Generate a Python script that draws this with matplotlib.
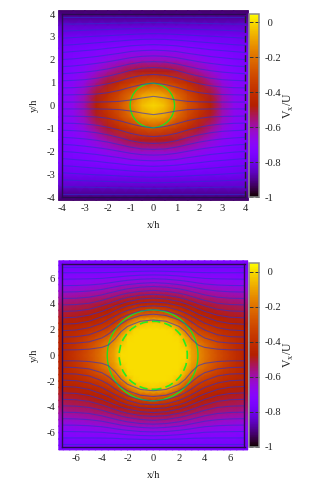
import numpy as np
import matplotlib
matplotlib.use('Agg')
import matplotlib.pyplot as plt

plt.rcParams['font.family'] = ['Liberation Serif', 'DejaVu Serif']
plt.rcParams['font.size'] = 7.6
plt.rcParams['axes.unicode_minus'] = False
plt.rcParams['mathtext.fontset'] = 'custom'
plt.rcParams['mathtext.rm'] = 'Liberation Serif'

W, H = 332, 483

# top panel: one quadrant of Vx/U
top_grid_x = [0, 0.5, 1, 1.5, 2, 2.5, 3, 3.5, 4.15]
top_grid_y = [0, 0.5, 1, 1.5, 2, 2.5, 3, 3.5, 4.15]
top_field = [
    [-.01, -.05, -.17, -.28, -.37, -.47, -.59, -.67, -.72],
    [-.08, -.11, -.22, -.32, -.41, -.50, -.61, -.68, -.72],
    [-.28, -.31, -.36, -.42, -.50, -.57, -.65, -.70, -.73],
    [-.49, -.49, -.51, -.55, -.59, -.64, -.69, -.72, -.75],
    [-.62, -.62, -.63, -.65, -.67, -.70, -.72, -.74, -.76],
    [-.71, -.71, -.71, -.72, -.73, -.74, -.75, -.76, -.77],
    [-.78, -.78, -.78, -.78, -.78, -.79, -.79, -.79, -.80],
    [-.84, -.84, -.84, -.84, -.84, -.84, -.84, -.84, -.84],
    [-.93, -.93, -.93, -.93, -.93, -.93, -.93, -.93, -.93],
]
top_line_x = [0, 0.5, 1, 1.5, 2, 2.5, 3, 3.5, 4]
top_lines = [
    [.40, .33, .24, .18, .16, .15, .15, .15, .15],
    [.98, .92, .80, .66, .56, .50, .48, .47, .46],
    [1.36, 1.32, 1.22, 1.07, .95, .86, .81, .78, .77],
    [1.66, 1.63, 1.54, 1.40, 1.28, 1.19, 1.13, 1.10, 1.08],
    [1.92, 1.90, 1.82, 1.71, 1.60, 1.52, 1.46, 1.42, 1.39],
    [2.17, 2.15, 2.09, 2.00, 1.91, 1.84, 1.78, 1.73, 1.70],
    [2.42, 2.40, 2.36, 2.28, 2.21, 2.14, 2.09, 2.04, 2.01],
    [2.66, 2.64, 2.61, 2.55, 2.50, 2.44, 2.40, 2.36, 2.32],
    [2.90, 2.89, 2.86, 2.82, 2.78, 2.74, 2.70, 2.66, 2.63],
    [3.14, 3.13, 3.11, 3.08, 3.05, 3.03, 3.00, 2.97, 2.94],
    [3.38, 3.37, 3.36, 3.34, 3.32, 3.31, 3.29, 3.27, 3.25],
    [3.62, 3.62, 3.61, 3.60, 3.59, 3.58, 3.57, 3.56, 3.56],
    [3.87, 3.87, 3.87, 3.87, 3.87, 3.87, 3.87, 3.87, 3.87],
]
top_ticks = [-4, -3, -2, -1, 0, 1, 2, 3, 4]

# bottom panel
bot_grid_x = [0, .5, 1, 1.5, 2, 2.5, 3, 3.5, 4, 4.5, 5, 5.5, 6, 6.5, 7, 7.35]
bot_grid_y = [0, .5, 1, 1.5, 2, 2.5, 3, 3.5, 4, 4.5, 5, 5.5, 6, 6.5, 7, 7.35]
bot_field = [
    [0, 0, 0, 0, 0, 0, -.09, -.14, -.19, -.24, -.29, -.33, -.37, -.41, -.45, -.47],
    [0, 0, 0, 0, 0, -.01, -.10, -.15, -.20, -.25, -.30, -.34, -.38, -.42, -.45, -.47],
    [0, 0, 0, 0, 0, -.05, -.13, -.18, -.23, -.28, -.32, -.36, -.39, -.42, -.45, -.47],
    [0, 0, 0, 0, -.01, -.10, -.19, -.25, -.29, -.33, -.36, -.39, -.41, -.43, -.45, -.46],
    [0, 0, 0, -.01, -.09, -.19, -.28, -.33, -.36, -.38, -.40, -.42, -.43, -.44, -.45, -.46],
    [-.02, -.03, -.05, -.11, -.20, -.30, -.36, -.39, -.41, -.43, -.44, -.45, -.46, -.47, -.47, -.48],
    [-.19, -.20, -.22, -.26, -.32, -.37, -.41, -.44, -.45, -.46, -.47, -.48, -.49, -.49, -.50, -.50],
    [-.33, -.34, -.35, -.37, -.40, -.43, -.45, -.47, -.48, -.49, -.50, -.51, -.51, -.52, -.52, -.53],
    [-.43, -.43, -.44, -.45, -.46, -.48, -.49, -.50, -.51, -.52, -.53, -.53, -.54, -.54, -.55, -.55],
    [-.50, -.50, -.50, -.51, -.52, -.53, -.54, -.55, -.56, -.56, -.57, -.57, -.58, -.58, -.59, -.59],
    [-.56, -.56, -.56, -.57, -.57, -.58, -.59, -.59, -.60, -.61, -.61, -.62, -.62, -.63, -.63, -.63],
    [-.62, -.62, -.62, -.62, -.63, -.63, -.64, -.64, -.65, -.65, -.66, -.66, -.66, -.67, -.67, -.67],
    [-.68, -.68, -.68, -.68, -.68, -.69, -.69, -.69, -.69, -.70, -.70, -.70, -.70, -.71, -.71, -.71],
    [-.73, -.73, -.73, -.73, -.73, -.73, -.73, -.73, -.74, -.74, -.74, -.74, -.74, -.74, -.75, -.75],
    [-.77, -.77, -.77, -.77, -.77, -.77, -.77, -.77, -.77, -.77, -.77, -.77, -.77, -.77, -.77, -.77],
    [-.74, -.74, -.74, -.74, -.74, -.74, -.74, -.74, -.74, -.74, -.74, -.74, -.74, -.74, -.74, -.74],
]
bot_line_x = [0, 1, 2, 2.5, 3, 3.5, 4, 5, 6, 7.1]
bot_lines = [
    [2.75, 2.65, 2.25, 1.85, 1.25, .80, .62, .48, .43, .42],
    [3.2, 3.1, 2.75, 2.45, 2.05, 1.65, 1.35, 1.05, .95, .92],
    [3.55, 3.45, 3.15, 2.9, 2.6, 2.25, 1.97, 1.6, 1.45, 1.42],
    [3.85, 3.78, 3.5, 3.3, 3.05, 2.78, 2.5, 2.15, 1.97, 1.92],
    [4.15, 4.08, 3.85, 3.68, 3.45, 3.2, 3.0, 2.65, 2.47, 2.42],
    [4.45, 4.38, 4.18, 4.02, 3.83, 3.62, 3.42, 3.12, 2.96, 2.92],
    [4.75, 4.68, 4.5, 4.37, 4.2, 4.02, 3.85, 3.58, 3.45, 3.42],
    [5.05, 4.98, 4.83, 4.72, 4.57, 4.42, 4.27, 4.05, 3.95, 3.92],
    [5.35, 5.3, 5.17, 5.07, 4.95, 4.83, 4.7, 4.52, 4.44, 4.42],
    [5.65, 5.6, 5.5, 5.42, 5.32, 5.22, 5.12, 5.0, 4.94, 4.92],
    [5.95, 5.92, 5.83, 5.77, 5.7, 5.62, 5.55, 5.47, 5.43, 5.42],
    [6.25, 6.23, 6.17, 6.12, 6.07, 6.03, 5.98, 5.95, 5.93, 5.92],
    [6.55, 6.53, 6.5, 6.48, 6.45, 6.44, 6.43, 6.42, 6.42, 6.42],
    [6.9, 6.9, 6.9, 6.9, 6.9, 6.9, 6.9, 6.9, 6.9, 6.9],
]
bot_ticks = [-6, -4, -2, 0, 2, 4, 6]

cbar_ticks = [0, -0.2, -0.4, -0.6, -0.8, -1]
cbar_labels = [' 0', '-0.2', '-0.4', '-0.6', '-0.8', '-1']

dpi = 100
fig = plt.figure(figsize=(W / dpi, H / dpi), dpi=dpi)


def px_axes(left, top, right, bottom):
    return fig.add_axes([left / W, 1 - bottom / H, (right - left) / W, (bottom - top) / H])


def mirror(x):
    x = np.array(x, dtype=float)
    return np.concatenate([-x[:0:-1], x])


def panel(ax, cax, gx, gy, field, line_x, lines, lim, ticks, right_edge, right_dashed):
    f = np.array(field)
    f = np.hstack([f[:, :0:-1], f])
    f = np.vstack([f[:0:-1], f])
    X = mirror(gx)
    Y = mirror(gy)
    mesh = ax.pcolormesh(X, Y, f, shading='gouraud', cmap='gnuplot', vmin=-1, vmax=0.05, clip_on=False)
    # the picture stops a little short of the right frame line
    mask = plt.Rectangle((-lim - 1, -lim - 1), lim + 1 + right_edge, 2 * lim + 2,
                         transform=ax.transData)
    mesh.set_clip_path(mask)

    for yy in lines:
        xs = mirror(line_x)
        ys = np.concatenate([np.array(yy[:0:-1]), np.array(yy)])
        ax.plot(xs, ys, color='#2a30d0', lw=0.8, alpha=0.6)
        ax.plot(xs, -ys, color='#2a30d0', lw=0.8, alpha=0.6)

    ax.set_xlim(-lim, lim)
    ax.set_ylim(-lim, lim)
    ax.set_xticks(ticks)
    ax.set_yticks(ticks)
    ax.set_xticklabels([str(t) for t in ticks])
    ax.set_yticklabels([str(t) for t in ticks])
    ax.tick_params(length=0, pad=5, colors='#222222')
    for s in ['left', 'top', 'bottom', 'right']:
        ax.spines[s].set_color('#2a0a50')
        ax.spines[s].set_linewidth(1.0)
    if right_dashed:
        ax.spines['right'].set_color('#222222')
        ax.spines['right'].set_linestyle((0, (4, 3)))
    ax.set_xlabel('x/h', labelpad=6, color='#222222')
    ax.set_ylabel('y/h', labelpad=5.5, color='#222222')

    cb = fig.colorbar(mesh, cax=cax, ticks=cbar_ticks)
    cb.ax.set_yticklabels(cbar_labels, color='#222222')
    cb.ax.tick_params(which='both', direction='in', length=3, width=0.7, color='#333333',
                      left=True, right=True, pad=4.5)
    cb.outline.set_edgecolor('#8a8a8a')
    cb.outline.set_linewidth(1.1)
    cb.set_label(r'V$_{\mathrm{x}}$/U', color='#222222', fontsize=8.5, va='center')
    cb.ax.yaxis.set_label_coords(4.25, 0.5)
    return mesh


# top panel
ax1 = px_axes(62, 14, 245, 197)
cax1 = px_axes(249, 13.5, 258.5, 197)
panel(ax1, cax1, top_grid_x, top_grid_y, top_field, top_line_x, top_lines, 4, top_ticks, 3.92, True)
ax1.add_patch(plt.Circle((-0.05, 0), 0.97, fill=False, ec='#22dd22', lw=1.0))

# bottom panel
ax2 = px_axes(62, 264, 244.5, 446.7)
cax2 = px_axes(249, 263, 258.5, 446.7)
panel(ax2, cax2, bot_grid_x, bot_grid_y, bot_field, bot_line_x, bot_lines, 7.1, bot_ticks, 7.35, False)
ax2.add_patch(plt.Circle((-0.05, 0), 3.53, fill=False, ec='#22dd22', lw=1.0))
ax2.add_patch(plt.Circle((0, 0), 2.65, fill=False, ec='#22ee22', lw=1.2, ls=(0, (5, 2.5))))

plt.savefig('out.png', dpi=dpi)
